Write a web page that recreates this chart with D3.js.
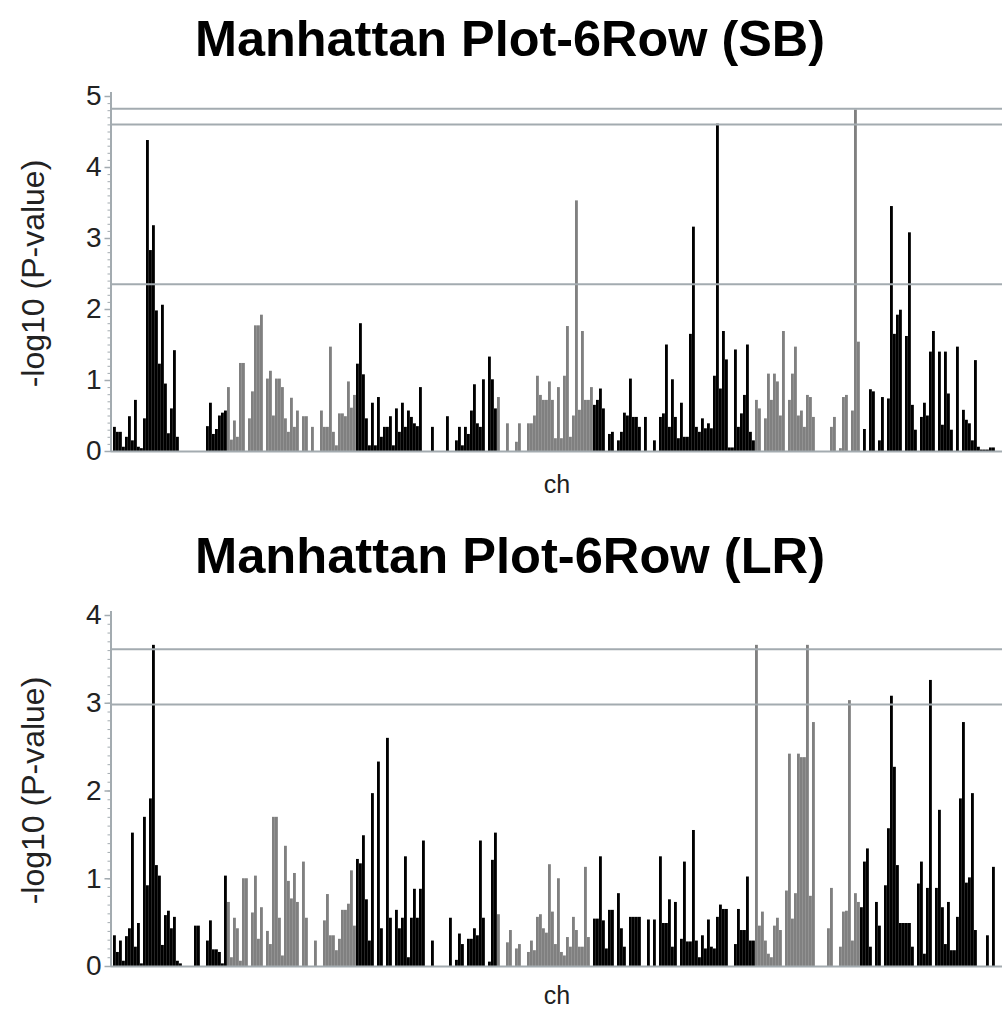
<!DOCTYPE html>
<html><head><meta charset="utf-8">
<script src="https://cdn.jsdelivr.net/npm/d3@7"></script>
<style>body{margin:0;background:#fff} svg{display:block}</style>
</head><body>
<svg id="chart" width="1002" height="1010"></svg>
<script>
// ---------- DATA ----------
const chromosomes = ["1H","2H","3H","4H","5H","6H","7H"];
const titles = ["Manhattan Plot-6Row (SB)", "Manhattan Plot-6Row (LR)"];
const xLabel = "ch";
const yLabel = "-log10 (P-value)";

// SB: -log10(p) per marker, grouped by chromosome
const sbChr1 = [0.34,0.27,0.27,0.06,0.2,0.49,0.15,0.72,0.06,0.04,0.46,4.38,2.83,3.18,1.98,1.23,2.06,0.95,0.25,0.6,1.42,0.2,0,0,0,0,0,0,0,0,0,0.35,0.68,0.24,0.31,0.5,0.54,0.57];
const sbChr2 = [0.9,0.16,0.43,0.2,1.24,1.24,0,0.46,0.84,1.77,1.77,1.92,0,1.02,1.13,0.5,1.02,1.02,0.9,0.46,0.27,0.75,0.34,0.57,0,0.49,0.49,0,0.34,0,0,0.57,0.34,0.34,1.47,0.27,0.08,0.53,0.53,0.49,0.98,0.61,0.79];
const sbChr3 = [1.23,1.8,1.08,0.46,0.08,0.68,0.08,0.76,0.2,0.34,0.34,0.49,0.08,0.6,0.27,0.68,0.34,0.57,0.48,0.39,0.35,0.9,0,0,0,0.34,0,0,0,0,0.49,0,0,0.15,0.34,0.08,0.34,0.24,0.57,0.94,0.39,0.34,1.01,0,1.33,1.01,0.6];
const sbChr4 = [0.76,0,0,0.39,0,0,0.13,0.39,0,0,0.39,0.39,0.5,1.06,0.79,0.72,0.72,0.98,0.72,0.18,0.9,0.18,1.06,1.76,0.2,0.5,3.53,0.58,1.69,0.72,0.72,0.9];
const sbChr5 = [0.65,0.72,0.88,0.6,0,0.24,0.27,0,0.15,0.27,0.54,0.5,1.02,0.48,0.48,0.34,0,0.48,0,0,0.15,0,0.48,0.53,1.5,0.34,1.01,0.48,0.18,0.68,0.2,0.2,1.65,3.16,0.34,0.27,0.46,0.32,0.39,0.32,1.06,4.61,0.88,1.69,1.29,0.05,0.05,1.43,0.34,0.53,0.79,1.5,0.27,0.15];
const sbChr6 = [0.72,0.6,0,0.46,1.09,0.72,1.09,0.98,0.5,1.69,0,0.72,1.09,1.47,0.5,0.57,0.34,0.79,0.76,0.48,0,0,0,0,0,0.34,0.48,0,0.04,0.76,0.79,0,0.57,4.81,1.54];
const sbChr7 = [0,0.31,0,0.87,0.84,0,0.15,0.76,0,0.74,3.45,1.65,1.92,1.99,0,1.62,3.08,0.65,0.3,0,0.48,0.68,0.5,1.4,1.69,0,1.4,0.37,1.4,0.81,0.3,0,1.47,0,0.58,0.44,0.39,0.15,1.28,0.06,0.02,0.02,0.02,0.05,0.05,0,0];

// LR
const lrChr1 = [0.35,0.16,0.29,0.06,0.34,0.43,1.52,0.22,0.49,0.03,1.7,0.92,1.91,3.66,1.15,1.03,0.24,0.58,0.63,0.43,0.56,0.06,0.03,0,0,0,0,0.46,0.46,0,0,0.29,0.52,0.19,0.19,0.16,0.03,1.03];
const lrChr2 = [0.73,0.1,0.55,0.43,0.06,1.0,1.0,0,0.61,1.03,0.31,0.67,0,0.4,0.25,1.7,1.7,0.55,0.12,1.37,0.97,0.77,1.06,0.73,0,1.19,0.55,0,0,0.29,0,0,0.52,0.82,0.35,0.35,0.18,0.31,0.64,0.64,0.71,1.09,0.46];
const lrChr3 = [1.22,1.17,1.49,0.76,0.29,1.97,0,2.33,0.43,0,2.6,0.55,0,0.64,0.43,0.55,1.25,0.1,0.55,0.88,0.55,0.88,1.43,0,0,0.29,0,0,0,0,0,0.55,0,0.07,0.37,0.25,0,0.31,0.31,0.43,0.35,1.43,0.55,0,0.05,1.21,1.52];
const lrChr4 = [0.59,0,0,0.27,0.41,0,0.2,0.25,0,0,0.16,0.29,0.18,0.56,0.59,0.43,0.38,1.16,0.62,0.25,1.0,0.16,0.12,0.33,0.22,0.56,0.41,0.22,0.22,1.13,0.33,0];
const lrChr5 = [0.54,0.54,1.25,0.52,0.2,0.64,0.64,0,0.83,0.43,0.22,0,0.56,0.56,0.56,0.56,0,0,0.53,0,0.53,0,1.25,0.49,0.49,0.76,0.22,0.73,0,0.31,1.19,0.28,0.28,1.55,0.29,0.1,0.35,0.2,0.53,0.22,0.2,0.56,0.7,0.65,0.65,0,0,0.25,0.65,0.41,0.41,1.02,0.29,0.29];
const lrChr6 = [3.66,0.46,0.62,0.29,0.14,0.1,0.46,0.55,0.41,0,0.86,2.42,0.54,0.83,2.42,2.38,2.38,3.66,0.8,2.78,0,0,0,0,0.43,0.89,0,0,0.22,0.62,0.63,3.03,0.29,0.83,0.73];
const lrChr7 = [0.67,1.19,1.34,0.22,0,0.73,0.46,0,0.92,1.57,3.08,2.27,1.15,0.49,0.49,0.49,0.49,0.22,0,0.94,1.19,0.14,0.89,3.26,0,0.89,1.78,0.67,0.25,0.73,0.18,0.18,0.56,1.91,2.78,0.95,1.01,1.97,0.41,0,0,0,0.35,0,1.13,0,0];

const sbThresholds = [4.82, 4.6, 2.35];
const lrThresholds = [3.61, 2.98];
const sbTicks = [0,1,2,3,4,5];
const lrTicks = [0,1,2,3,4];

// ---------- DRAW ----------
const svg = d3.select("#chart");
const FONT = "'Liberation Sans', Arial, Helvetica, sans-serif";
const axisColor = "#a3abb0";
const chrColors = ["#000000", "#808080"];

const panels = [
  {title: titles[0], chrs: [sbChr1,sbChr2,sbChr3,sbChr4,sbChr5,sbChr6,sbChr7], thr: sbThresholds, ticks: sbTicks, yTop: 96, yBot: 451, titleY: 56, chY: 42},
  {title: titles[1], chrs: [lrChr1,lrChr2,lrChr3,lrChr4,lrChr5,lrChr6,lrChr7], thr: lrThresholds, ticks: lrTicks, yTop: 615, yBot: 966, titleY: 573, chY: 38}
];

const plotLeft = 110.5, plotRight = 1002, barLeft = 113, barRight = 1001;

panels.forEach(p => {
  const markers = [];
  p.chrs.forEach((arr, ci) => arr.forEach(v => markers.push({chr: chromosomes[ci], ci, v})));
  const N = markers.length;
  const x = d3.scaleLinear().domain([0, N]).range([barLeft, barRight]);
  const yMax = d3.max(p.ticks);
  const y = d3.scaleLinear().domain([0, yMax]).range([p.yBot, p.yTop]);
  const g = svg.append("g");

  // title
  g.append("text").attr("x", 510).attr("y", p.titleY)
    .attr("text-anchor", "middle").attr("font-family", FONT)
    .attr("font-weight", "bold").attr("font-size", 50).attr("fill", "#000")
    .attr("textLength", 630).attr("lengthAdjust", "spacingAndGlyphs")
    .text(p.title);

  // bars
  const step = x(1) - x(0);
  g.append("g").selectAll("rect").data(markers).join("rect")
    .attr("x", (d, i) => x(i))
    .attr("width", step - 0.15)
    .attr("y", d => y(d.v))
    .attr("height", d => y(0) - y(d.v))
    .attr("fill", d => chrColors[d.ci % 2]);

  // threshold lines
  g.append("g").selectAll("line").data(p.thr).join("line")
    .attr("x1", plotLeft).attr("x2", plotRight)
    .attr("y1", d => y(d)).attr("y2", d => y(d))
    .attr("stroke", axisColor).attr("stroke-width", 2);

  // baseline
  g.append("line").attr("x1", plotLeft).attr("x2", plotRight)
    .attr("y1", y(0)+0.5).attr("y2", y(0)+0.5)
    .attr("stroke", axisColor).attr("stroke-width", 2);

  // minor ticks
  const minor = d3.range(0, yMax * 10 + 1).map(k => k / 10);
  const minorAxis = g.append("g").attr("transform", `translate(${plotLeft},0)`)
    .call(d3.axisLeft(y).tickValues(minor).tickSize(3).tickSizeOuter(0).tickFormat(""));
  minorAxis.selectAll("line").attr("stroke", axisColor).attr("stroke-width", 1);
  minorAxis.select(".domain").remove();

  // major axis
  const ax = g.append("g").attr("transform", `translate(${plotLeft},0)`)
    .call(d3.axisLeft(y).tickValues(p.ticks).tickSize(6).tickSizeOuter(0).tickPadding(3).tickFormat(d3.format("d")));
  ax.select(".domain").attr("stroke", axisColor).attr("stroke-width", 2)
    .attr("d", `M0.5,${y(0)+1}V${y(yMax)-4}`);
  ax.selectAll(".tick line").attr("stroke", axisColor).attr("stroke-width", 1.5);
  ax.selectAll(".tick text").attr("font-family", FONT).attr("font-size", 28).attr("fill", "#222");

  // labels
  g.append("text").attr("x", 557).attr("y", y(0) + p.chY)
    .attr("text-anchor", "middle").attr("font-family", FONT).attr("font-size", 25).attr("fill", "#222")
    .text(xLabel);
  g.append("text")
    .attr("transform", `translate(44,${(p.yTop + p.yBot) / 2}) rotate(-90)`)
    .attr("text-anchor", "middle").attr("font-family", FONT).attr("font-size", 32).attr("fill", "#222")
    .text(yLabel);
});
</script>
</body></html>
